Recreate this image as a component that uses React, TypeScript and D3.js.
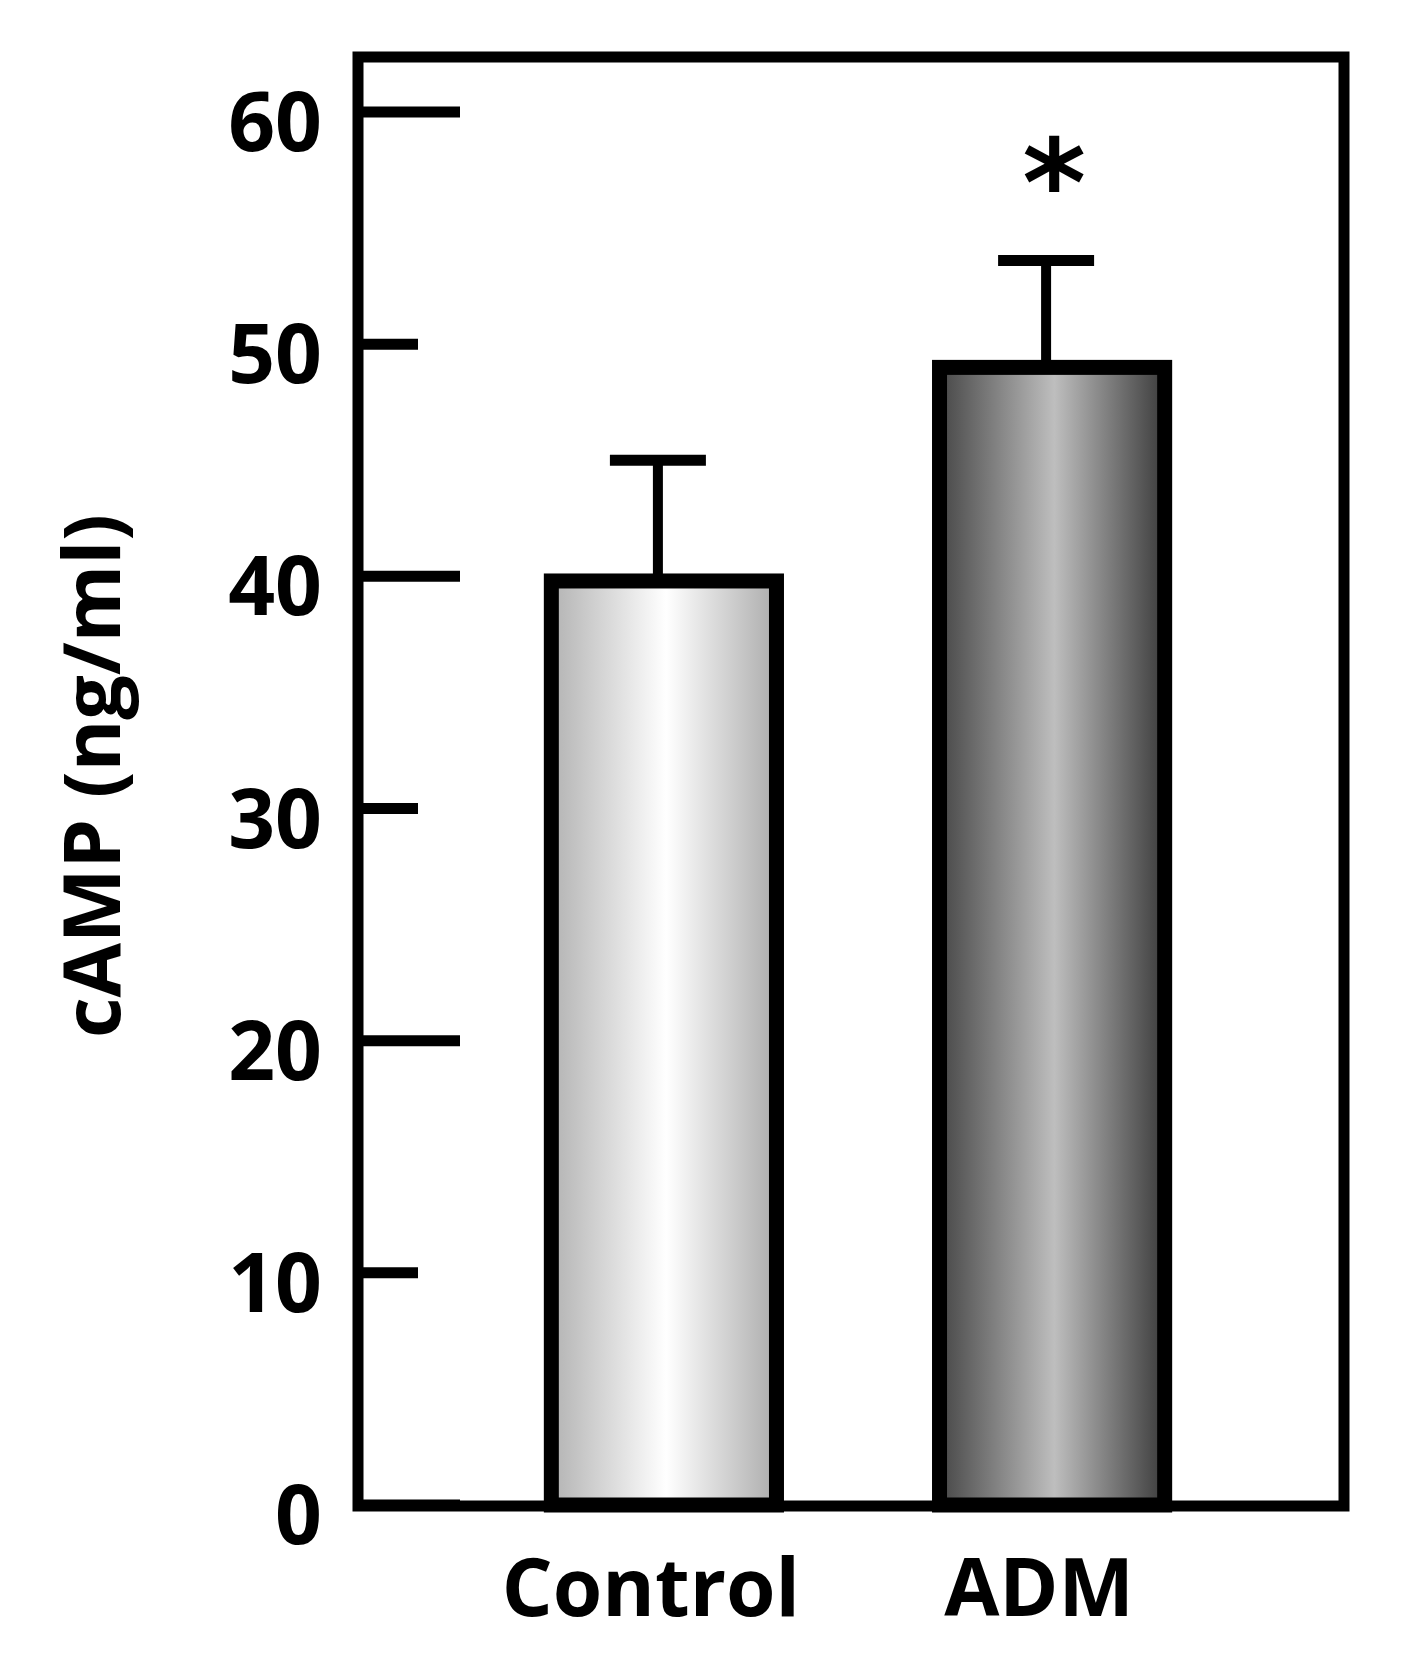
import React, { useEffect, useRef } from 'react';
import * as d3 from 'd3';

const categories = ['Control', 'ADM'];
const means = [39.8, 49.0];
const errors = [5.2, 4.6];
const significant = [false, true];
const yTicks = [0, 10, 20, 30, 40, 50, 60];
const yLabel = 'cAMP (ng/ml)';

const FONT = "'Open Sans', 'Liberation Sans', sans-serif";

const App = () => {
  const chartRef = useRef<SVGSVGElement>(null);

  useEffect(() => {
    drawChart();
  }, []);

  const drawChart = () => {
    const width = 1404;
    const height = 1655;
    const left = 358, right = 1344, top = 57, bottom = 1506;

    const svg = d3.select(chartRef.current);
    svg.selectAll('*').remove();
    svg.attr('width', width).attr('height', height)
      .attr('viewBox', [0, 0, width, height])
      .attr('style', 'position:absolute;left:0;top:0;background:white');

    const defs = svg.append('defs');
    // cylinder-like shading for each bar
    const shades = [
      ['#b3b3b3', '#ffffff', '#acacac'],
      ['#474747', '#bebebe', '#3c3c3c']
    ];
    shades.forEach((s, i) => {
      const g = defs.append('linearGradient').attr('id', 'bar-grad-' + i)
        .attr('x1', 0).attr('x2', 1).attr('y1', 0).attr('y2', 0);
      g.append('stop').attr('offset', 0).attr('stop-color', s[0]);
      g.append('stop').attr('offset', 0.51).attr('stop-color', s[1]);
      g.append('stop').attr('offset', 1).attr('stop-color', s[2]);
    });

    const y = d3.scaleLinear().domain([0, 60]).range([1505, 112]);
    const x = d3.scaleBand().domain(categories).range([365, 1351])
      .paddingInner(0.42).paddingOuter(0.48);

    // ticks (long at multiples of 20)
    svg.append('g')
      .selectAll('line')
      .data(yTicks)
      .join('line')
      .attr('x1', left)
      .attr('x2', d => (d % 20 === 0 ? 460 : 418))
      .attr('y1', d => y(d))
      .attr('y2', d => y(d))
      .attr('stroke', 'black')
      .attr('stroke-width', 11);

    svg.append('g')
      .attr('font-family', FONT)
      .attr('font-weight', 700)
      .attr('font-size', 82)
      .attr('text-anchor', 'end')
      .selectAll('text')
      .data(yTicks)
      .join('text')
      .attr('x', 322)
      .attr('y', d => y(d) + 39)
      .text(d => d);

    // bars
    const bw = x.bandwidth();
    svg.append('g')
      .selectAll('rect')
      .data(categories)
      .join('rect')
      .attr('x', d => x(d)!)
      .attr('y', (d, i) => y(means[i]))
      .attr('width', bw)
      .attr('height', (d, i) => y(0) - y(means[i]))
      .attr('fill', (d, i) => `url(#bar-grad-${i})`)
      .attr('stroke', 'black')
      .attr('stroke-width', 15);

    // error bars (upper only)
    const eb = svg.append('g').attr('stroke', 'black');
    eb.selectAll('line.v')
      .data(categories)
      .join('line')
      .attr('class', 'v')
      .attr('x1', d => x(d)! + bw / 2 - 6)
      .attr('x2', d => x(d)! + bw / 2 - 6)
      .attr('y1', (d, i) => y(means[i]) - 7)
      .attr('y2', (d, i) => y(means[i] + errors[i]))
      .attr('stroke-width', 10);
    eb.selectAll('line.c')
      .data(categories)
      .join('line')
      .attr('class', 'c')
      .attr('x1', d => x(d)! + bw / 2 - 6 - 48)
      .attr('x2', d => x(d)! + bw / 2 - 6 + 48)
      .attr('y1', (d, i) => y(means[i] + errors[i]))
      .attr('y2', (d, i) => y(means[i] + errors[i]))
      .attr('stroke-width', 11);

    // significance marks
    svg.append('g')
      .attr('font-family', "'DejaVu Sans', sans-serif")
      .attr('font-weight', 700)
      .attr('font-size', 122)
      .attr('text-anchor', 'middle')
      .selectAll('text')
      .data(categories.filter((d, i) => significant[i]))
      .join('text')
      .attr('x', d => x(d)! + bw / 2 + 2)
      .attr('y', d => y(means[categories.indexOf(d)] + errors[categories.indexOf(d)]) - 35)
      .text('*');

    // frame
    svg.append('rect')
      .attr('x', left).attr('y', top)
      .attr('width', right - left).attr('height', bottom - top)
      .attr('fill', 'none')
      .attr('stroke', 'black')
      .attr('stroke-width', 11);

    // category labels
    svg.append('g')
      .attr('font-family', FONT)
      .attr('font-weight', 700)
      .attr('font-size', 80)
      .attr('text-anchor', 'middle')
      .selectAll('text')
      .data(categories)
      .join('text')
      .attr('x', d => x(d)! + bw / 2 - 13)
      .attr('y', 1616)
      .text(d => d);

    svg.append('text')
      .attr('transform', `translate(120,776) rotate(-90)`)
      .attr('text-anchor', 'middle')
      .attr('font-family', FONT)
      .attr('font-weight', 700)
      .attr('font-size', 79)
      .text(yLabel);
  };

  return <svg ref={chartRef}></svg>;
};

export default App;
